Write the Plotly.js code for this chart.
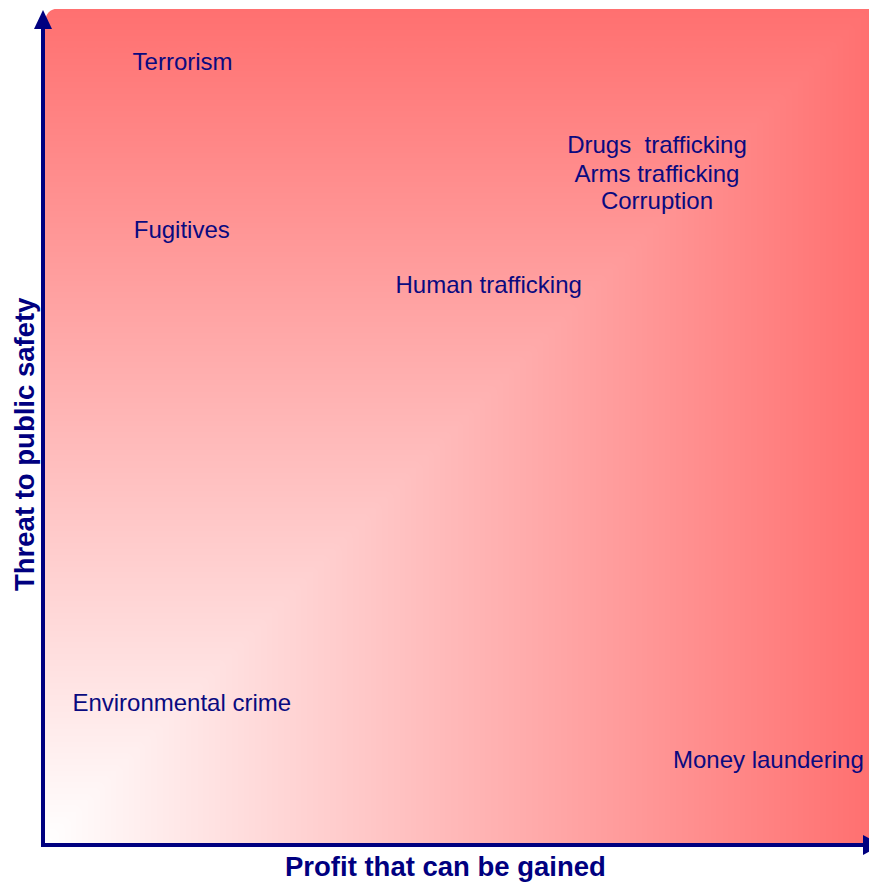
<!DOCTYPE html>
<html>
<head>
<meta charset="utf-8">
<script src="https://cdn.plot.ly/plotly-3.0.1.min.js"></script>
<style>html,body{margin:0;padding:0;background:#fff;}#chart{width:869px;height:882px;}</style>
</head>
<body>
<div id="chart"></div>
<script>
// Data: crime categories positioned by profit (x) and threat to public safety (y), 0..1 scale
const categories = ["Terrorism", "Drugs  trafficking", "Arms trafficking", "Corruption", "Fugitives", "Human trafficking", "Environmental crime", "Money laundering"];
const profit = [0.168, 0.743, 0.743, 0.743, 0.167, 0.539, 0.167, 0.878];
const threat = [0.934, 0.834, 0.800, 0.767, 0.733, 0.667, 0.165, 0.0975];
const xTitle = "Profit that can be gained";
const yTitle = "Threat to public safety";

const W = 869, H = 882;
const M = {l: 44, r: 0, t: 9, b: 39};
const pw = W - M.l - M.r, ph = H - M.t - M.b;
const px = x => (x - M.l) / pw;
const py = y => (H - M.b - y) / ph;

// background gradient (rectangular gradient from bottom-left corner)
const N = 81;
const gx = [], gy = [], gz = [];
for (let i = 0; i < N; i++) { gx.push(i / (N - 1)); gy.push(i / (N - 1)); }
for (let j = 0; j < N; j++) {
  const row = [];
  for (let i = 0; i < N; i++) row.push(Math.max(gx[i], gy[j]));
  gz.push(row);
}

const navy = "#000080";
const textColor = "#0a0a80";

const traces = [
  {type: "heatmap", x: gx, y: gy, z: gz, zsmooth: "best", showscale: false, hoverinfo: "skip",
   colorscale: [[0, "#ffffff"], [1, "#ff7070"]], zmin: 0, zmax: 1},
  {type: "scatter", mode: "text", x: profit, y: threat, text: categories, textposition: "middle center",
   textfont: {family: "Liberation Sans, Arial, sans-serif", size: 24, color: textColor}, hoverinfo: "skip", cliponaxis: false}
];

const P = (x, y) => px(x) + "," + py(y);
const shapes = [
  // rounded top-left corner
  {type: "path", xref: "paper", yref: "paper", path: "M" + P(44, 8) + " L" + P(60, 8) + " Q" + P(44, 9) + " " + P(45, 25) + " L" + P(44, 25) + " Z",
   fillcolor: "#ffffff", line: {width: 0}, layer: "above"},
  // y axis line
  {type: "line", xref: "paper", yref: "paper", x0: px(43), x1: px(43), y0: py(847), y1: py(26), line: {color: navy, width: 4}, layer: "above"},
  // x axis line
  {type: "line", xref: "paper", yref: "paper", x0: px(41), x1: px(866), y0: py(845), y1: py(845), line: {color: navy, width: 4}, layer: "above"},
  // arrowheads
  {type: "path", xref: "paper", yref: "paper", path: "M" + P(43, 10) + " L" + P(34, 29) + " L" + P(52, 29) + " Z", fillcolor: navy, line: {width: 0}, layer: "above"},
  {type: "path", xref: "paper", yref: "paper", path: "M" + P(882, 845) + " L" + P(863, 835) + " L" + P(863, 855) + " Z", fillcolor: navy, line: {width: 0}, layer: "above"}
];

const annotations = [
  {xref: "paper", yref: "paper", x: px(445), y: py(866), text: "<b>" + xTitle + "</b>", showarrow: false,
   font: {family: "Liberation Sans, Arial, sans-serif", size: 27.5, color: navy}, xanchor: "center", yanchor: "middle"},
  {xref: "paper", yref: "paper", x: px(24), y: py(444), text: "<b>" + yTitle + "</b>", showarrow: false, textangle: -90,
   font: {family: "Liberation Sans, Arial, sans-serif", size: 27.5, color: navy}, xanchor: "center", yanchor: "middle"}
];

const layout = {
  width: W, height: H, margin: M,
  paper_bgcolor: "#ffffff", plot_bgcolor: "#ffffff",
  showlegend: false,
  xaxis: {range: [0, 1], visible: false, fixedrange: true},
  yaxis: {range: [0, 1], visible: false, fixedrange: true},
  shapes: shapes, annotations: annotations
};

Plotly.newPlot("chart", traces, layout, {displayModeBar: false, staticPlot: true});
</script>
</body>
</html>
